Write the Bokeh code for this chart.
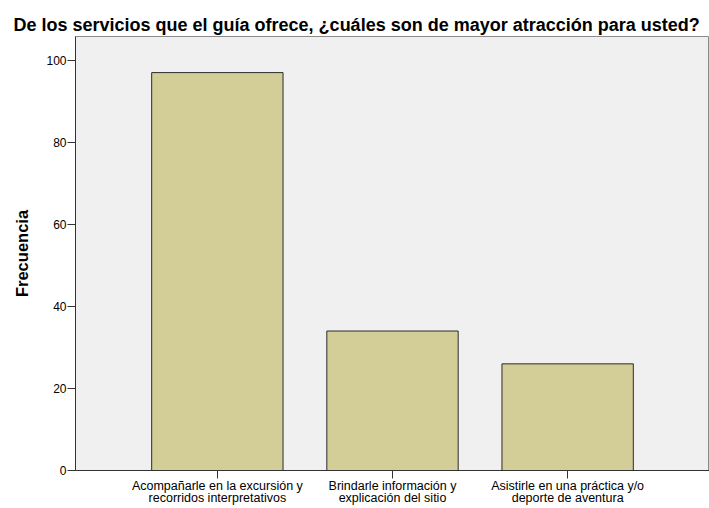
from bokeh.plotting import figure
from bokeh.models import FactorRange, Range1d, FixedTicker
from bokeh.embed import file_html
from bokeh.resources import INLINE

titulo = "De los servicios que el guía ofrece, ¿cuáles son de mayor atracción para usted?"
categories = [
    "Acompañarle en la excursión y\nrecorridos interpretativos",
    "Brindarle información y\nexplicación del sitio",
    "Asistirle en una práctica y/o\ndeporte de aventura",
]
frecuencia = [97, 34, 26]
y_ticks = [0, 20, 40, 60, 80, 100]
y_max = 105.8

p = figure(
    x_range=FactorRange(factors=categories, range_padding=0.31, range_padding_units="absolute"),
    y_range=Range1d(0, y_max),
    width=709, height=508,
    output_backend="svg", toolbar_location=None,
    min_border_left=75, min_border_right=0, min_border_top=36, min_border_bottom=30,
)
p.title.text = titulo
p.title.text_font = "Liberation Sans"
p.title.text_font_size = "18px"
p.title.text_font_style = "bold"
p.title.align = "left"
p.title.offset = -62
p.title.standoff = 4
p.title.text_color = "#000000"

p.vbar(x=categories, top=frecuencia, width=0.75,
       fill_color="#d3ce97", line_color="#2b2b2b", line_width=1)

p.background_fill_color = "#f0f0f0"
p.border_fill_color = "#ffffff"
p.outline_line_color = "#8a8a8a"
p.grid.visible = False

p.yaxis.ticker = FixedTicker(ticks=y_ticks)
p.yaxis.axis_label = "Frecuencia"
p.yaxis.axis_label_text_font = "Liberation Sans"
p.yaxis.axis_label_text_font_size = "16.5px"
p.yaxis.axis_label_text_font_style = "bold"
p.yaxis.axis_label_text_color = "#000000"
p.yaxis.axis_label_standoff = 12
p.yaxis.minor_tick_line_color = None
p.yaxis.major_tick_in = 0
p.yaxis.major_tick_out = 8
p.yaxis.major_label_standoff = 1
p.yaxis.major_label_text_font_size = "12px"

p.xaxis.major_label_text_font_size = "12.5px"
for ax in (p.xaxis, p.yaxis):
    ax.major_label_text_font = "Liberation Sans"
    ax.major_label_text_color = "#000000"
    ax.axis_line_color = "#333333"
    ax.major_tick_line_color = "#333333"

p.xaxis.major_tick_in = 0
p.xaxis.major_tick_out = 8
p.xaxis.major_label_orientation = "horizontal"
p.xaxis.major_label_standoff = 0
p.xaxis.major_label_text_line_height = 0.9

open("out.html", "w").write(file_html(p, INLINE))
